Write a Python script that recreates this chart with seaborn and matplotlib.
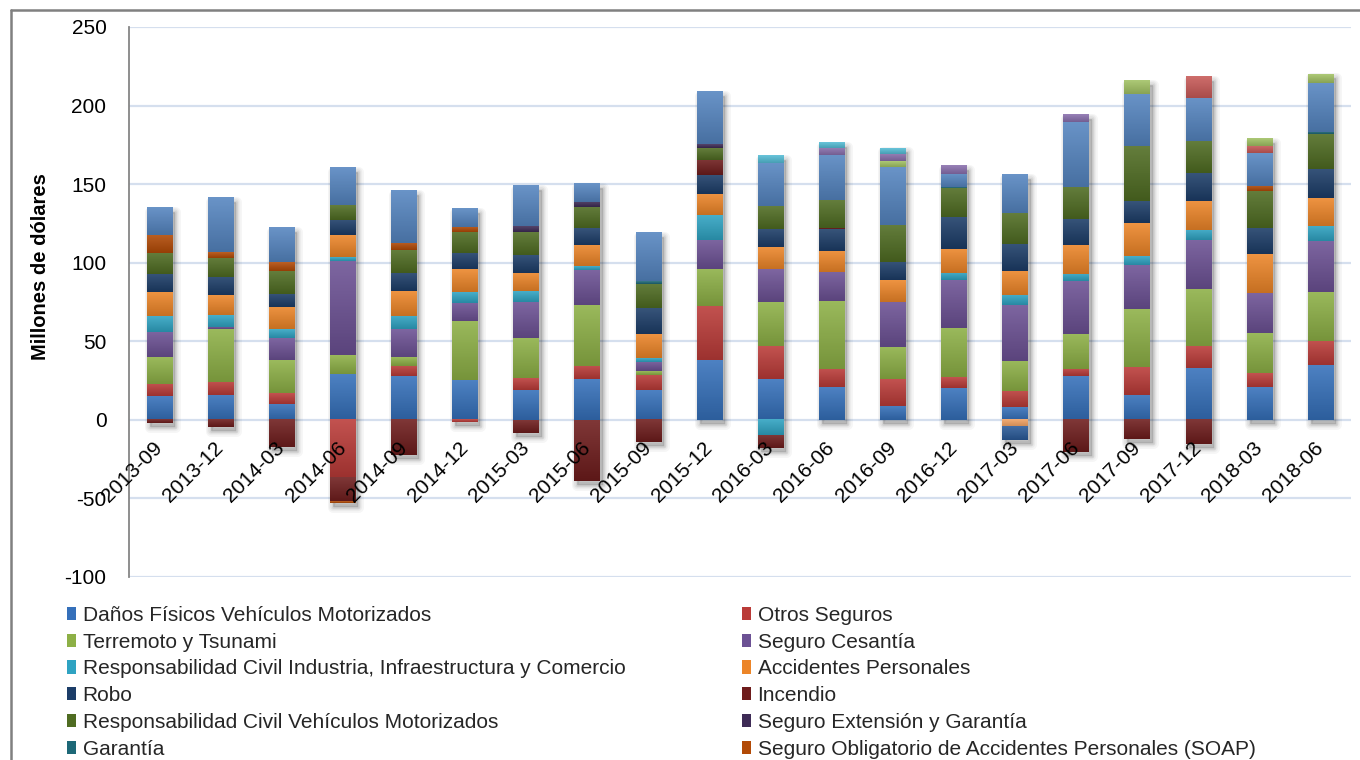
import numpy as np
import pandas as pd
import matplotlib
matplotlib.use("Agg")
import matplotlib.pyplot as plt
import matplotlib.transforms as mtransforms
from matplotlib.patches import Patch
from matplotlib.lines import Line2D
from matplotlib.colors import to_rgb
import seaborn as sns

# ---- data (millones de dólares) ----
periods = ["2013-09", "2013-12", "2014-03", "2014-06", "2014-09", "2014-12",
           "2015-03", "2015-06", "2015-09", "2015-12", "2016-03", "2016-06",
           "2016-09", "2016-12", "2017-03", "2017-06", "2017-09", "2017-12",
           "2018-03", "2018-06"]

series_names = [
    "Daños Físicos Vehículos Motorizados",
    "Otros Seguros",
    "Terremoto y Tsunami",
    "Seguro Cesantía",
    "Responsabilidad Civil Industria, Infraestructura y Comercio",
    "Accidentes Personales",
    "Robo",
    "Incendio",
    "Responsabilidad Civil Vehículos Motorizados",
    "Seguro Extensión y Garantía",
    "Garantía",
    "Seguro Obligatorio de Accidentes Personales (SOAP)",
    "Vida",
    "Salud",
    "Desgravamen",
    "Transporte",
    "Ingeniería",
    "Agrícola",
    "Crédito",
]
# number of entries listed in the legend
n_legend = 12

danos_fisicos = [14.9, 16.1, 10.4, 29.1, 27.6, 25.1, 19.3, 25.7, 18.7, 37.8,
                 25.7, 20.6, 9.1, 20.0, 7.9, 27.6, 16.1, 32.7, 20.6, 34.6]
otros_seguros = [7.9, 8.3, 7.0, -36.5, 6.4, -1.5, 7.6, 8.3, 9.6, 34.4,
                 21.0, 11.5, 16.6, 7.0, 10.2, 4.5, 17.8, 14.0, 8.9, 15.3]
terremoto = [17.0, 33.1, 20.4, 11.9, 5.7, 37.6, 25.5, 38.9, 2.5, 23.6,
             28.0, 43.3, 20.4, 31.2, 19.1, 22.3, 36.9, 36.3, 25.5, 31.2]
cesantia = [16.3, 1.9, 14.0, 59.9, 17.8, 11.5, 22.9, 22.7, 5.9, 18.5,
            21.0, 18.5, 28.7, 30.6, 35.7, 33.8, 28.0, 31.2, 25.5, 32.5]
rc_industria = [9.8, 7.6, 5.7, 2.5, 8.9, 7.0, 6.4, 2.1, 2.5, 15.9,
                -9.8, 0, 0, 4.5, 6.4, 4.5, 5.7, 6.4, 0, 9.6]
accidentes = [15.3, 12.7, 14.6, 14.0, 15.3, 14.6, 11.5, 13.4, 15.7, 13.4,
              14.0, 13.4, 14.0, 15.3, 15.3, 18.5, 21.0, 18.5, 24.8, 17.8]
robo = [11.5, 11.5, 8.3, 9.8, 11.5, 10.2, 11.5, 10.8, 16.1, 12.1,
        11.5, 14.0, 11.5, 20.4, 17.2, 16.6, 14.0, 17.8, 16.6, 18.5]
incendio = [-2.0, -4.7, -17.4, -15.9, -22.5, 0, -8.1, -38.6, -14.2, 9.6,
            -8.1, 1.0, 0, 0, 0, -20.4, -12.3, -15.5, 0, 0]
rc_vehiculos = [13.4, 12.1, 14.6, 9.3, 14.6, 13.4, 14.6, 13.4, 15.7, 7.6,
                14.6, 17.4, 23.6, 18.5, 19.7, 20.4, 35.0, 20.4, 23.6, 22.3]
extension_garantia = [0, 0, 0, 0, 0, 0, 3.8, 3.2, 0, 2.5,
                      0, 0, 0, 0, 0, 0, 0, 0, 0, 0]
garantia = [0, 0, 0, 0, 0, 0, 0, 0, 1.9, 0,
            0, 0, 0, 0.6, 0, 0, 0, 0, 0, 1.3]
soap = [11.5, 3.8, 5.7, -0.7, 4.5, 3.2, 0, 0, 0, 0,
        0, 0, 0, 0, 0, 0, 0, 0, 3.2, 0]
vida = [17.2, 34.4, 21.7, 23.6, 33.1, 11.5, 25.5, 11.5, 30.6, 33.1,
        27.4, 28.7, 36.9, 8.3, 24.2, 41.4, 33.1, 27.4, 21.0, 31.2]
salud = [0, 0, 0, 0, 0, 0, 0, 0, 0, 0,
         0, 0, 0, 0, 0, 0, 0, 13.4, 4.5, 0]
desgravamen = [0, 0, 0, 0, 0, 0, 0, 0, 0, 0,
               0, 0, 3.8, 0, 0, 0, 8.3, 0, 4.5, 5.7]
transporte = [0, 0, 0, 0, 0, 0, 0, 0, 0, 0,
              0, 4.5, 4.5, 5.1, 0, 4.5, 0, 0, 0, 0]
ingenieria = [0, 0, 0, 0, 0, 0, 0, 0, 0, 0,
              4.5, 3.2, 3.8, 0, 0, 0, 0, 0, 0, 0]
agricola = [0, 0, 0, 0, 0, 0, 0, 0, 0, 0,
            0, 0, 0, 0, -4.5, 0, 0, 0, 0, 0]
credito = [0, 0, 0, 0, 0, 0, 0, 0, 0, 0,
           0, 0, 0, 0, -8.3, 0, 0, 0, 0, 0]

series_values = [danos_fisicos, otros_seguros, terremoto, cesantia, rc_industria,
                 accidentes, robo, incendio, rc_vehiculos, extension_garantia,
                 garantia, soap, vida, salud, desgravamen, transporte,
                 ingenieria, agricola, credito]

series_colors = ["#3570BA", "#BA3B38", "#8DB046", "#6C5194", "#2FA3C2",
                 "#EC8528", "#1C3D68", "#6E1C1C", "#4F6C22", "#3E2B56",
                 "#1D6877", "#B24A06", "#5585C0", "#C85A58", "#A2C264",
                 "#8A70AE", "#55BDD6", "#F2A262", "#2A5A98"]

# ---- figure ----
sns.set_theme(style="white")
plt.rcParams["font.family"] = ["Liberation Sans", "DejaVu Sans"]
plt.rcParams["axes.unicode_minus"] = False

W, H = 1360, 760
fig = plt.figure(figsize=(W / 100, H / 100), dpi=100)
ax_left, ax_right, ax_top, ax_bottom = 128.7, 1351, 27, 577
ax = fig.add_axes([ax_left / W, 1 - ax_bottom / H,
                   (ax_right - ax_left) / W, (ax_bottom - ax_top) / H])

values = np.array(series_values, dtype=float)
n_series, n_per = values.shape
pos = np.where(values > 0, values, 0.0)
neg = np.where(values < 0, values, 0.0)
pos_base = np.vstack([np.zeros(n_per), np.cumsum(pos, axis=0)[:-1]])
neg_base = np.vstack([np.zeros(n_per), np.cumsum(neg, axis=0)[:-1]])

bar_width = 0.414
xpos = np.arange(n_per)

# soft drop shadow behind each stacked column
tops = pos.sum(axis=0)
bots = neg.sum(axis=0)
shadow_tr = ax.transData + mtransforms.ScaledTranslation(3 / 100, -4 / 100, fig.dpi_scale_trans)
for lw, a in [(8, 0.035), (6, 0.04), (4, 0.05), (2, 0.06)]:
    ax.bar(xpos, tops - bots, bottom=bots, width=bar_width, color="black",
           edgecolor="black", linewidth=lw, alpha=a, zorder=1.5,
           transform=shadow_tr, joinstyle="round")

# stacked columns
seg_patches = []
for i in range(n_series):
    heights = values[i]
    bottoms = np.where(heights >= 0, pos_base[i], neg_base[i])
    df = pd.DataFrame({"periodo": periods, "valor": heights})
    n_before = len(ax.patches)
    sns.barplot(data=df, x="periodo", y="valor", order=periods, bottom=bottoms,
                color=series_colors[i], saturation=1, width=bar_width,
                errorbar=None, linewidth=0, edgecolor="none", ax=ax, zorder=3)
    seg_patches.extend(ax.patches[n_before:])

# vertical light-to-dark shading on each segment
def shade(c, t):
    c = np.array(to_rgb(c))
    return c + (1 - c) * t if t > 0 else c * (1 + t)

for p in seg_patches:
    h = p.get_height()
    if abs(h) < 1e-9:
        continue
    x0, w, y0 = p.get_x(), p.get_width(), p.get_y()
    ylo, yhi = min(y0, y0 + h), max(y0, y0 + h)
    base = p.get_facecolor()[:3]
    top_c, bot_c = shade(base, 0.12), shade(base, -0.16)
    t = np.linspace(0, 1, 64)[:, None]
    img = (top_c[None, :] * (1 - t) + bot_c[None, :] * t)[:, None, :]
    ax.imshow(img, extent=[x0, x0 + w, ylo, yhi], aspect="auto",
              interpolation="nearest", origin="upper", zorder=3.1)

# axes styling
ax.set_xlim(-0.5, n_per - 0.5)
ax.set_ylim(-100, 250)
ax.set_yticks(np.arange(-100, 251, 50))
ax.yaxis.grid(True, color="#D5DFEE", linewidth=1.6)
ax.xaxis.grid(False)
ax.set_axisbelow(True)
# category labels sit on top of the columns, gridlines stay behind
ax.xaxis.set_zorder(5)
for s in ["top", "right"]:
    ax.spines[s].set_visible(False)
ax.spines["bottom"].set_position(("data", 0))
ax.spines["bottom"].set_visible(False)
ax.spines["left"].set_color("#868686")
ax.spines["left"].set_linewidth(1.3)
ax.spines["left"].set_zorder(4)

ax.tick_params(axis="y", length=0, pad=16, labelsize=15, labelcolor="black")
ax.tick_params(axis="x", length=0, pad=13.5, labelsize=15, labelcolor="black")
ax.set_xticks(xpos)
ax.set_xticklabels(periods)
shift = mtransforms.ScaledTranslation(7 / 100, 0, fig.dpi_scale_trans)
for lab in ax.get_xticklabels():
    lab.set_rotation(45)
    lab.set_ha("right")
    lab.set_va("top")
    lab.set_transform(lab.get_transform() + shift)

ax.set_xlabel("")
ax.set_ylabel("Millones de dólares", fontsize=14.5, fontweight="bold",
              color="black", va="center")
ax.yaxis.set_label_coords((40 - ax_left) / (ax_right - ax_left),
                          (ax_bottom - 267) / (ax_bottom - ax_top))

# legend in two columns, read row by row
handles = [Patch(facecolor=c, edgecolor="none") for c in series_colors]
leg_kw = dict(loc="upper left", frameon=False, fontsize=15, handlelength=0.45,
              handleheight=0.6, handletextpad=0.3, labelspacing=0.37,
              borderpad=0, borderaxespad=0)
left_idx = list(range(0, n_legend, 2))
right_idx = list(range(1, n_legend, 2))
fig.legend([handles[i] for i in left_idx], [series_names[i] for i in left_idx],
           bbox_to_anchor=(67 / W, 1 - 606 / H), **leg_kw)
fig.legend([handles[i] for i in right_idx], [series_names[i] for i in right_idx],
           bbox_to_anchor=(742 / W, 1 - 606 / H), **leg_kw)

# chart border
fig.add_artist(Line2D([11 / W, 1], [1 - 10 / H, 1 - 10 / H],
                      transform=fig.transFigure, color="#808080", lw=1.8))
fig.add_artist(Line2D([11 / W, 11 / W], [0, 1 - 10 / H],
                      transform=fig.transFigure, color="#808080", lw=1.8))

fig.savefig("out.png", dpi=100)
